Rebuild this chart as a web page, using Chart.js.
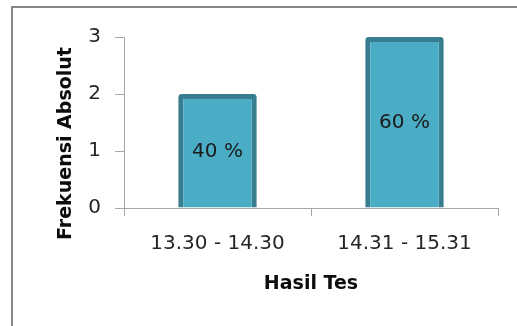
<!DOCTYPE html>
<html>
<head>
<meta charset="utf-8">
<script src="https://cdn.jsdelivr.net/npm/chart.js@4/dist/chart.umd.min.js"></script>
<style>
  html, body { margin: 0; padding: 0; background: #fff; overflow: hidden; }
  #wrap { position: relative; width: 517px; height: 326px; }
  #frame { position: absolute; left: 11px; top: 6px; width: 520px; height: 330px;
           border: 2px solid #878787; box-sizing: border-box; }
  canvas { position: absolute; left: 0; top: 0; }
</style>
</head>
<body>
<div id="wrap">
  <div id="frame"></div>
  <canvas id="c" width="517" height="326"></canvas>
</div>
<script>
// Score ranges and how many results fell in each
const categories = ['13.30 - 14.30', '14.31 - 15.31'];
const frequencies = [2, 3];
const yTicks = [0, 1, 2, 3];
const xTitle = 'Hasil Tes';
const yTitle = 'Frekuensi Absolut';

const total = frequencies.reduce((a, b) => a + b, 0);

// Writes each bar's share of the total in its middle
const shareLabels = {
  id: 'shareLabels',
  afterDatasetsDraw(chart) {
    const { ctx } = chart;
    const meta = chart.getDatasetMeta(0);
    ctx.save();
    ctx.font = '20px "DejaVu Sans"';
    ctx.fillStyle = '#1a1a1a';
    ctx.textAlign = 'center';
    ctx.textBaseline = 'middle';
    meta.data.forEach((bar, i) => {
      const pct = Math.round(frequencies[i] / total * 100);
      const { x, y, base } = bar.getProps(['x', 'y', 'base'], true);
      ctx.fillText(pct + ' %', x, (y + base) / 2 + 1);
    });
    ctx.restore();
  }
};

// Vertical axis title, set a little below the middle of the value axis
const sideTitle = {
  id: 'sideTitle',
  afterDraw(chart) {
    const { ctx } = chart;
    const y = chart.scales.y;
    ctx.save();
    ctx.font = 'bold 19px "DejaVu Sans"';
    ctx.fillStyle = '#0d0d0d';
    ctx.textAlign = 'center';
    ctx.textBaseline = 'middle';
    ctx.translate(66, (y.top + y.bottom) / 2 + 21);
    ctx.rotate(-Math.PI / 2);
    ctx.fillText(yTitle, 0, 0);
    ctx.restore();
  }
};

new Chart(document.getElementById('c'), {
  type: 'bar',
  data: {
    labels: categories,
    datasets: [{
      data: frequencies,
      backgroundColor: '#4bacc6',
      borderColor: '#397d90',
      borderWidth: 5,
      borderSkipped: 'start',
      borderRadius: 3,
      categoryPercentage: 1,
      barPercentage: 0.42
    }]
  },
  options: {
    responsive: false,
    animation: false,
    layout: { padding: { top: 37, right: 19, left: 0, bottom: 0 } },
    plugins: { legend: { display: false }, tooltip: { enabled: false } },
    scales: {
      x: {
        grid: { drawOnChartArea: false, drawTicks: true, tickLength: 8, color: '#a6a6a6', offset: true },
        border: { color: '#a6a6a6', width: 1 },
        ticks: { color: '#262626', font: { family: 'DejaVu Sans', size: 20 }, padding: 16 },
        title: {
          display: true, text: xTitle, color: '#0d0d0d',
          font: { family: 'DejaVu Sans', size: 19, weight: 'bold' },
          padding: { top: 0, bottom: 31 }
        },
        afterFit(scale) { scale.height = 326 - 208; }
      },
      y: {
        min: 0, max: 3,
        afterBuildTicks(scale) { scale.ticks = yTicks.map(v => ({ value: v })); },
        grid: { drawOnChartArea: false, drawTicks: true, tickLength: 9, color: '#a6a6a6' },
        border: { color: '#a6a6a6', width: 1 },
        ticks: { color: '#262626', font: { family: 'DejaVu Sans', size: 20 }, padding: 14 },
        title: { display: false },
        afterFit(scale) { scale.width = 124; }
      }
    }
  },
  plugins: [shareLabels, sideTitle]
});
</script>
</body>
</html>
